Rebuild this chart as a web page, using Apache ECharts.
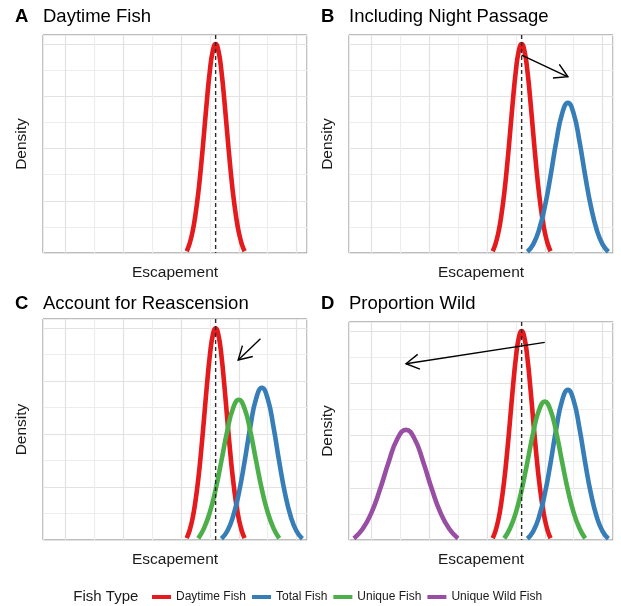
<!DOCTYPE html>
<html><head><meta charset="utf-8">
<script src="https://cdn.jsdelivr.net/npm/echarts@6/dist/echarts.min.js"></script>
<style>html,body{margin:0;padding:0;background:#fff}#c{width:621px;height:606px}</style>
</head><body><div id="c"></div>
<script>
// ---------- data ----------
const seriesNames = ['Daytime Fish', 'Total Fish', 'Unique Fish', 'Unique Wild Fish'];
const panelLetters = ['A', 'B', 'C', 'D'];
const panelTitles = ['Daytime Fish', 'Including Night Passage', 'Account for Reascension', 'Proportion Wild'];
const xAxisTitle = 'Escapement';
const yAxisTitle = 'Density';
const legendTitle = 'Fish Type';

const daytimeX = [4.2, 4.3, 4.4, 4.5, 4.6, 4.7, 4.8, 4.9, 5.0, 5.1, 5.2, 5.3, 5.4, 5.5, 5.6, 5.7, 5.8, 5.9, 6.0, 6.1, 6.2];
const daytimeY = [0.07, 0.36, 0.80, 1.45, 2.30, 3.37, 4.60, 5.86, 6.97, 7.73, 8.00, 7.73, 6.97, 5.86, 4.60, 3.37, 2.30, 1.45, 0.80, 0.36, 0.07];

const totalX = [5.4, 5.6, 5.8, 6.0, 6.2, 6.4, 6.6, 6.8, 7.0, 7.2, 7.4, 7.6, 7.8, 8.0, 8.2];
const totalY = [0.05, 0.33, 0.88, 1.76, 2.95, 4.28, 5.34, 5.75, 5.34, 4.28, 2.95, 1.76, 0.88, 0.33, 0.05];

const uniqueX = [4.6, 4.8, 5.0, 5.2, 5.4, 5.6, 5.8, 6.0, 6.2, 6.4, 6.6, 6.8, 7.0, 7.2, 7.4];
const uniqueY = [0.06, 0.45, 1.05, 1.91, 2.99, 4.11, 4.97, 5.30, 4.97, 4.11, 2.99, 1.91, 1.05, 0.45, 0.06];

const wildX = [-0.6, -0.3, 0.0, 0.3, 0.6, 0.9, 1.2, 1.5, 1.8, 2.1, 2.4, 2.7, 3.0];
const wildY = [0.06, 0.42, 1.03, 1.93, 2.98, 3.87, 4.22, 3.87, 2.98, 1.93, 1.03, 0.42, 0.06];

// which curves appear in each panel (indices into seriesNames)
const panelCurves = [[0], [0, 1], [0, 1, 2], [0, 1, 2, 3]];
// dashed reference line (daytime peak)
const referenceX = [5.2];
// arrows per panel: [x0, y0, x1, y1]
const panelArrows = [null, [5.2, 7.58, 6.8, 6.75], [6.75, 7.6, 5.98, 6.8], [6.0, 7.57, 1.2, 6.75]];
// axis ranges
const xRange = [-0.77, 8.36];
const yRange = [0, 8.35];

// ---------- styling / layout ----------
const curveX = [daytimeX, totalX, uniqueX, wildX];
const curveY = [daytimeY, totalY, uniqueY, wildY];
const colors = ['#E41A1C', '#377EB8', '#4DAF4A', '#984EA3'];
const FONT = '"Liberation Sans", Arial, sans-serif';
const grids = [
  {left: 43, top: 35, width: 264, height: 218},
  {left: 349, top: 35, width: 264, height: 218},
  {left: 43, top: 319, width: 264, height: 221},
  {left: 349, top: 322, width: 264, height: 218}
];
const titleBaseY = [22.7, 22.7, 310, 310];
const majorC = '#E2E2E2', minorC = '#EDEDED';

const gridOpts = grids.map(g => Object.assign({}, g, {
  show: true, borderColor: '#7a7a7a', borderWidth: 1, backgroundColor: '#fff', containLabel: false
}));

const xAxes = grids.map((g, i) => ({
  type: 'value', gridIndex: i, min: xRange[0], max: xRange[1],
  minInterval: 1, maxInterval: 1,
  axisLine: {show: false}, axisTick: {show: false}, axisLabel: {show: false},
  splitLine: {show: true, lineStyle: {color: [minorC, majorC], width: 1.2}}
}));
const yAxes = grids.map((g, i) => ({
  type: 'value', gridIndex: i, min: yRange[0], max: yRange[1], interval: 1,
  axisLine: {show: false}, axisTick: {show: false}, axisLabel: {show: false},
  splitLine: {show: true, lineStyle: {color: [majorC, minorC], width: 1.2}}
}));

const series = [];
panelCurves.forEach((list, p) => {
  list.forEach(ci => {
    series.push({
      type: 'line', name: seriesNames[ci], xAxisIndex: p, yAxisIndex: p,
      data: curveX[ci].map((x, k) => [x, curveY[ci][k]]),
      smooth: true, symbol: 'none', showSymbol: false, silent: true, z: 3,
      lineStyle: {color: colors[ci], width: 4.6, cap: 'butt', join: 'round'},
      itemStyle: {color: colors[ci]}
    });
  });
  // dashed reference line
  series.push({
    type: 'custom', name: 'ref' + p, xAxisIndex: p, yAxisIndex: p, silent: true, z: 6,
    data: referenceX.map(x => [x, 0]),
    encode: {x: 0, y: 1},
    renderItem: (params, api) => {
      const cs = params.coordSys;
      const x = api.coord([api.value(0), 0])[0];
      return {type: 'line', shape: {x1: x, y1: cs.y, x2: x, y2: cs.y + cs.height},
        style: {stroke: '#2b2b2b', lineWidth: 1.4, lineDash: [4, 3]}};
    }
  });
  if (panelArrows[p]) {
    series.push({
      type: 'custom', name: 'arrow' + p, xAxisIndex: p, yAxisIndex: p, silent: true, z: 7,
      data: [panelArrows[p]],
      encode: {x: [0, 2], y: [1, 3]},
      renderItem: (params, api) => {
        const a = api.coord([api.value(0), api.value(1)]);
        const b = api.coord([api.value(2), api.value(3)]);
        const ang = Math.atan2(b[1] - a[1], b[0] - a[0]);
        const L = 15, w = Math.PI / 6;
        const w1 = [b[0] - L * Math.cos(ang - w), b[1] - L * Math.sin(ang - w)];
        const w2 = [b[0] - L * Math.cos(ang + w), b[1] - L * Math.sin(ang + w)];
        return {type: 'group', children: [
          {type: 'line', shape: {x1: a[0], y1: a[1], x2: b[0], y2: b[1]}, style: {stroke: '#000', lineWidth: 1.4}},
          {type: 'polyline', shape: {points: [w1, b, w2]}, style: {stroke: '#000', fill: null, lineWidth: 1.4}}
        ]};
      }
    });
  }
});

const graphics = [];
grids.forEach((g, p) => {
  graphics.push({type: 'text', x: g.left - 28, y: titleBaseY[p] - 5.8, silent: true,
    style: {text: panelLetters[p], font: 'bold 18.5px ' + FONT, fill: '#000', textAlign: 'left', textVerticalAlign: 'middle'}});
  graphics.push({type: 'text', x: g.left, y: titleBaseY[p] - 5.8, silent: true,
    style: {text: panelTitles[p], font: '18.5px ' + FONT, fill: '#000', textAlign: 'left', textVerticalAlign: 'middle'}});
  graphics.push({type: 'text', x: g.left + g.width / 2, y: g.top + g.height + 19.8, silent: true,
    style: {text: xAxisTitle, font: '15.5px ' + FONT, fill: '#1a1a1a', textAlign: 'center', textVerticalAlign: 'middle'}});
  graphics.push({type: 'text', x: g.left - 21.3, y: g.top + g.height / 2, rotation: Math.PI / 2, silent: true,
    style: {text: yAxisTitle, font: '15.5px ' + FONT, fill: '#1a1a1a', textAlign: 'center', textVerticalAlign: 'middle'}});
});
graphics.push({type: 'text', x: 73.3, y: 596.5, silent: true,
  style: {text: legendTitle, font: '15px ' + FONT, fill: '#1a1a1a', textAlign: 'left', textVerticalAlign: 'middle'}});

const chart = echarts.init(document.getElementById('c'), null, {renderer: 'canvas'});
chart.setOption({
  animation: false,
  backgroundColor: '#fff',
  grid: gridOpts,
  xAxis: xAxes,
  yAxis: yAxes,
  legend: {
    data: seriesNames, left: 147, top: 586, orient: 'horizontal',
    itemWidth: 19, itemHeight: 4, itemGap: 6, icon: 'rect', selectedMode: false,
    textStyle: {fontSize: 12, fontFamily: FONT, color: '#1a1a1a'}
  },
  series: series,
  graphic: graphics
});
</script></body></html>
